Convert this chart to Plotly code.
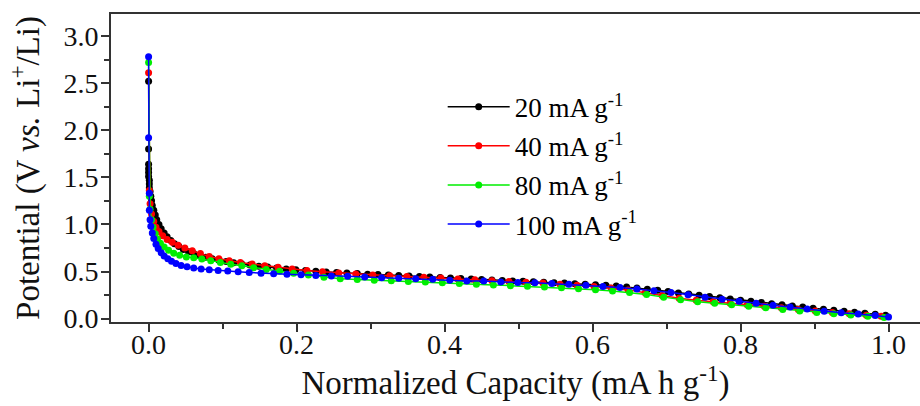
import plotly.graph_objects as go

# ---------------- data ----------------
series_names = ["20 mA g<sup>-1</sup>", "40 mA g<sup>-1</sup>",
                "80 mA g<sup>-1</sup>", "100 mA g<sup>-1</sup>"]
series_colors = ["#000000", "#ff0000", "#00ee00", "#0000ff"]

cap_20 = [0.000, 0.000, 0.000, 0.000, 0.000, 0.000, 0.001, 0.001, 0.001, 0.002,
          0.003, 0.004, 0.005, 0.007, 0.009, 0.011, 0.014, 0.017, 0.021, 0.025,
          0.030, 0.035, 0.041, 0.047, 0.054, 0.061, 0.069, 0.077, 0.086, 0.095,
          0.105, 0.115, 0.126, 0.137, 0.149, 0.161, 0.173, 0.186, 0.199, 0.212,
          0.226, 0.240, 0.254, 0.268, 0.282, 0.296, 0.310, 0.324, 0.338, 0.352,
          0.366, 0.380, 0.394, 0.408, 0.422, 0.436, 0.450, 0.464, 0.478, 0.492,
          0.506, 0.520, 0.534, 0.548, 0.562, 0.576, 0.590, 0.604, 0.618, 0.632,
          0.646, 0.660, 0.674, 0.688, 0.702, 0.716, 0.730, 0.744, 0.758, 0.772,
          0.786, 0.800, 0.814, 0.828, 0.842, 0.856, 0.870, 0.884, 0.898, 0.912,
          0.926, 0.940, 0.954, 0.968, 0.982, 0.996]
pot_20 = [2.52, 1.80, 1.64, 1.59, 1.55, 1.51, 1.47, 1.43, 1.39, 1.35,
          1.30, 1.25, 1.20, 1.15, 1.10, 1.05, 1.00, 0.955, 0.91, 0.87,
          0.83, 0.795, 0.765, 0.735, 0.71, 0.69, 0.67, 0.652, 0.635, 0.62,
          0.606, 0.593, 0.58, 0.568, 0.557, 0.547, 0.537, 0.528, 0.52, 0.512,
          0.503, 0.496, 0.489, 0.484, 0.478, 0.472, 0.467, 0.462, 0.457, 0.452,
          0.447, 0.442, 0.437, 0.431, 0.425, 0.42, 0.414, 0.41, 0.405, 0.40,
          0.396, 0.391, 0.387, 0.382, 0.377, 0.371, 0.366, 0.36, 0.353, 0.345,
          0.336, 0.325, 0.313, 0.30, 0.287, 0.273, 0.26, 0.247, 0.234, 0.221,
          0.208, 0.196, 0.183, 0.171, 0.158, 0.146, 0.134, 0.122, 0.11, 0.099,
          0.088, 0.077, 0.067, 0.057, 0.046, 0.035]

cap_40 = [0.000, 0.001, 0.002, 0.004, 0.007, 0.010, 0.014, 0.019, 0.025, 0.032,
          0.040, 0.049, 0.059, 0.070, 0.082, 0.095, 0.109, 0.124, 0.140, 0.157,
          0.175, 0.194, 0.214, 0.235, 0.257, 0.280, 0.303, 0.326, 0.349, 0.372,
          0.395, 0.418, 0.441, 0.464, 0.487, 0.510, 0.533, 0.556, 0.579, 0.602,
          0.625, 0.648, 0.671, 0.694, 0.717, 0.740, 0.763, 0.786, 0.809, 0.832,
          0.855, 0.878, 0.901, 0.924, 0.947, 0.970, 0.990]
pot_40 = [2.61, 1.36, 1.22, 1.11, 1.03, 0.97, 0.925, 0.88, 0.84, 0.81,
          0.78, 0.75, 0.72, 0.69, 0.66, 0.635, 0.615, 0.595, 0.58, 0.562,
          0.545, 0.528, 0.512, 0.497, 0.485, 0.474, 0.463, 0.455, 0.447, 0.438,
          0.43, 0.421, 0.412, 0.403, 0.395, 0.386, 0.377, 0.366, 0.355, 0.342,
          0.325, 0.305, 0.275, 0.245, 0.215, 0.195, 0.178, 0.162, 0.146, 0.13,
          0.114, 0.098, 0.082, 0.066, 0.051, 0.036, 0.024]

cap_80 = [0.000, 0.001, 0.002, 0.004, 0.006, 0.009, 0.012, 0.016, 0.021, 0.027,
          0.034, 0.042, 0.051, 0.061, 0.072, 0.084, 0.097, 0.111, 0.126, 0.142,
          0.159, 0.177, 0.196, 0.216, 0.237, 0.259, 0.282, 0.305, 0.328, 0.351,
          0.374, 0.397, 0.420, 0.443, 0.466, 0.489, 0.512, 0.535, 0.558, 0.581,
          0.604, 0.627, 0.650, 0.673, 0.696, 0.719, 0.742, 0.765, 0.788, 0.811,
          0.834, 0.857, 0.880, 0.903, 0.926, 0.949, 0.972, 0.994]
pot_80 = [2.72, 1.30, 1.16, 1.05, 0.97, 0.90, 0.845, 0.80, 0.76, 0.725,
          0.695, 0.672, 0.655, 0.645, 0.632, 0.615, 0.597, 0.578, 0.56, 0.54,
          0.522, 0.503, 0.482, 0.462, 0.44, 0.423, 0.414, 0.408, 0.401, 0.395,
          0.389, 0.382, 0.374, 0.366, 0.358, 0.35, 0.343, 0.336, 0.328, 0.318,
          0.307, 0.294, 0.278, 0.256, 0.228, 0.20, 0.18, 0.163, 0.147, 0.131,
          0.114, 0.097, 0.081, 0.066, 0.051, 0.037, 0.024, 0.012]

cap_100 = [0.000, 0.000, 0.001, 0.001, 0.002, 0.003, 0.005, 0.007, 0.010, 0.013,
           0.017, 0.021, 0.026, 0.031, 0.037, 0.044, 0.052, 0.061, 0.071, 0.082,
           0.094, 0.107, 0.121, 0.136, 0.152, 0.169, 0.187, 0.206, 0.226, 0.247,
           0.269, 0.292, 0.315, 0.338, 0.361, 0.384, 0.407, 0.430, 0.453, 0.476,
           0.499, 0.522, 0.545, 0.568, 0.591, 0.614, 0.637, 0.660, 0.683, 0.706,
           0.729, 0.752, 0.775, 0.798, 0.821, 0.844, 0.867, 0.890, 0.913, 0.936,
           0.959, 0.982, 1.000]
pot_100 = [2.78, 1.92, 1.33, 1.15, 1.05, 0.98, 0.91, 0.85, 0.79, 0.745,
           0.70, 0.665, 0.635, 0.61, 0.585, 0.565, 0.55, 0.538, 0.528, 0.52,
           0.512, 0.505, 0.498, 0.49, 0.482, 0.475, 0.47, 0.465, 0.458, 0.452,
           0.45, 0.443, 0.435, 0.428, 0.423, 0.418, 0.407, 0.40, 0.398, 0.388,
           0.383, 0.38, 0.372, 0.364, 0.354, 0.342, 0.329, 0.315, 0.296, 0.276,
           0.252, 0.228, 0.206, 0.185, 0.163, 0.143, 0.124, 0.103, 0.079, 0.063,
           0.05, 0.032, 0.017]

x_ticks = [0.0, 0.2, 0.4, 0.6, 0.8, 1.0]
x_tick_text = ["0.0", "0.2", "0.4", "0.6", "0.8", "1.0"]
y_ticks = [0.0, 0.5, 1.0, 1.5, 2.0, 2.5, 3.0]
y_tick_text = ["0.0", "0.5", "1.0", "1.5", "2.0", "2.5", "3.0"]

# ---------------- figure ----------------
FONT = "Liberation Serif"
AX = "#333333"

xs = [cap_20, cap_40, cap_80, cap_100]
ys = [pot_20, pot_40, pot_80, pot_100]

fig = go.Figure()
for i, (name, col, xv, yv) in enumerate(zip(series_names, series_colors, xs, ys)):
    fig.add_trace(go.Scatter(
        x=xv, y=yv, name=name, mode="lines+markers",
        line=dict(color=col, width=1.5),
        marker=dict(color=col, size=7, symbol="circle"),
        legendgroup=f"g{i}",
    ))

fig.update_layout(
    width=920, height=406,
    margin=dict(l=111, r=0, t=14, b=84, autoexpand=False),
    paper_bgcolor="white", plot_bgcolor="white",
    font=dict(family=FONT, size=27, color="black"),
    showlegend=True,
    legend=dict(
        x=0.410, y=0.777, xanchor="left", yanchor="top",
        bgcolor="rgba(0,0,0,0)", borderwidth=0,
        font=dict(family=FONT, size=27, color="black"),
        itemwidth=62, traceorder="grouped", tracegroupgap=1,
    ),
    xaxis=dict(
        range=[-0.0508, 1.0425],
        tickmode="array", tickvals=x_ticks, ticktext=x_tick_text,
        ticks="outside", ticklen=8, tickwidth=1.5, tickcolor=AX,
        ticklabelstandoff=-12,
        showline=True, linecolor=AX, linewidth=2, mirror=True,
        showgrid=False, zeroline=False,
        tickfont=dict(family=FONT, size=28, color="#111111"),
        minor=dict(dtick=0.1, tick0=0, ticks="outside", ticklen=5,
                   tickwidth=1.5, tickcolor=AX, showgrid=False),
        title=dict(text="Normalized Capacity (mA h g<sup>-1</sup>)",
                   font=dict(family=FONT, size=33, color="#111111"),
                   standoff=0),
        automargin=False,
    ),
    yaxis=dict(
        range=[-0.036, 3.234],
        tickmode="array", tickvals=y_ticks, ticktext=y_tick_text,
        ticks="outside", ticklen=8, tickwidth=1.5, tickcolor=AX,
        ticklabelstandoff=-3,
        showline=True, linecolor=AX, linewidth=2, mirror=False,
        showgrid=False, zeroline=False,
        tickfont=dict(family=FONT, size=28, color="#111111"),
        minor=dict(dtick=0.25, tick0=0, ticks="outside", ticklen=5,
                   tickwidth=1.5, tickcolor=AX, showgrid=False),
        title=dict(text="Potential (V <i>vs.</i> Li<sup>+</sup>/Li)",
                   font=dict(family=FONT, size=33, color="#111111"),
                   standoff=14),
        automargin=False,
    ),
)

fig.write_html("out.html")
